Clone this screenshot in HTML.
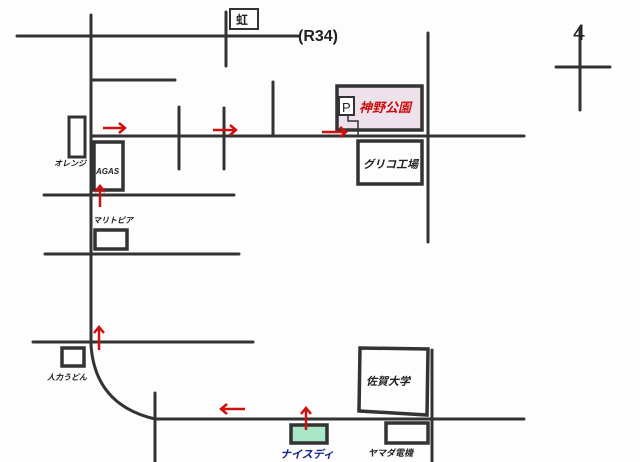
<!DOCTYPE html>
<html><head><meta charset="utf-8"><style>
html,body{margin:0;padding:0;background:#fdfdfd;}
svg{display:block}
text{font-family:"Liberation Sans","Noto Sans CJK JP",sans-serif;font-style:italic;font-weight:bold}
text.n{font-style:normal}
text.nn{font-style:normal;font-weight:normal}
</style></head><body>
<svg width="640" height="462" viewBox="0 0 640 462" xmlns="http://www.w3.org/2000/svg">
<rect width="640" height="462" fill="#fdfdfd"/>
<g stroke="#333" stroke-width="3" fill="none" stroke-linecap="round">
<line x1="17" y1="36" x2="298" y2="36"/>
<path d="M91 15 L91 345 Q95 405 155 419"/>
<line x1="226" y1="12" x2="226" y2="66"/>
<line x1="428" y1="33" x2="428" y2="242"/>
<line x1="580" y1="28" x2="580" y2="110"/>
<line x1="556" y1="67" x2="610" y2="67"/>
<line x1="91" y1="80" x2="175" y2="80"/>
<line x1="91" y1="136" x2="524" y2="136"/>
<line x1="179" y1="107" x2="179" y2="169"/>
<line x1="224" y1="108" x2="224" y2="169"/>
<line x1="273" y1="82" x2="273" y2="136"/>
<line x1="44" y1="195" x2="234" y2="195"/>
<line x1="45" y1="254" x2="239" y2="254"/>
<line x1="33" y1="342" x2="253" y2="342"/>
<line x1="155" y1="419" x2="524" y2="419"/>
<line x1="155" y1="393" x2="155" y2="462"/>
<line x1="432" y1="350" x2="432" y2="462"/>
<rect x="230" y="9" width="28" height="20" stroke-width="2"/>
<rect x="337" y="86" width="85" height="44" fill="#ede2ec" stroke-width="3.5"/>
<rect x="339" y="97" width="15" height="18" fill="#fff" stroke-width="2"/>
<path d="M348 115 L348 121 L358 121 L358 136" stroke-width="1.5"/>
<rect x="358" y="141" width="64" height="43" stroke-width="3.5"/>
<rect x="69" y="117" width="16" height="40"/>
<rect x="94" y="142" width="29" height="48" stroke-width="3.5"/>
<rect x="95" y="230" width="32" height="19" stroke-width="3.5"/>
<rect x="62" y="348" width="22" height="18" stroke-width="3.5"/>
<path d="M360 348 L428 349 L427 415 L359 411 Z" stroke-width="3.5"/>
<rect x="291" y="425" width="36" height="18" fill="#a8e6c8" stroke-width="3.5"/>
<rect x="386" y="423" width="42" height="20" stroke-width="3.5"/>
</g>
<g stroke="#d01010" stroke-width="2.5" fill="none">
<path d="M103 128 H125 M119 123 L125 128 L119 133"/>
<path d="M213 130 H236 M230 125 L236 130 L230 135"/>
<path d="M322 132 H346 M340 127 L346 132 L340 137"/>
<path d="M100 207 V186 M95 192 L100 186 L105 192"/>
<path d="M99 350 V327 M94 333 L99 327 L104 333"/>
<path d="M245 409 H221 M227 404 L221 409 L227 414"/>
<path d="M306 430 V408 M301 414 L306 408 L311 414"/>
</g>
<g fill="#222">
<text class="n" x="236" y="24" font-size="12">虹</text>
<text class="n" x="298" y="41" font-size="16">(R34)</text>
<text class="nn" x="573" y="40" font-size="22">4</text>
<text class="nn" x="342" y="112" font-size="13">P</text>
<text x="359" y="112" font-size="13" fill="#cc1010">神野公園</text>
<text x="363" y="168" font-size="11">グリコ工場</text>
<text x="54" y="166" font-size="8">オレンジ</text>
<text x="96" y="174" font-size="8">AGAS</text>
<text x="93" y="223" font-size="8">マリトピア</text>
<text x="47" y="380" font-size="8">人力うどん</text>
<text x="366" y="385" font-size="11">佐賀大学</text>
<text x="280" y="458" font-size="11" fill="#1a2a8a">ナイスディ</text>
<text x="368" y="456" font-size="9">ヤマダ電機</text>
</g>
</svg>
</body></html>
